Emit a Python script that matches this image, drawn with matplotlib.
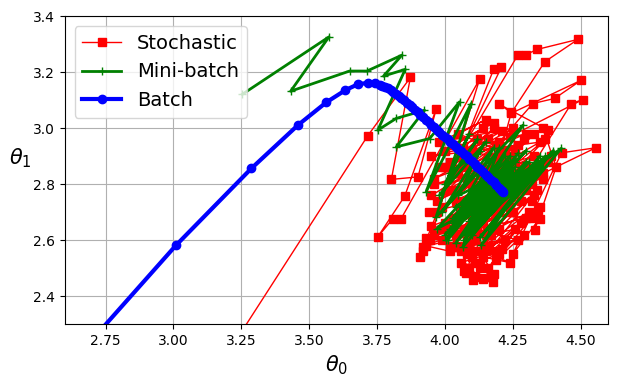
import matplotlib.pyplot as plt

# batch gradient descent path
batch_t0 = [2.55, 3.010, 3.287, 3.459, 3.563, 3.634, 3.680, 3.717, 3.741, 3.760,
            3.77, 3.78, 3.79, 3.80, 3.81, 3.82, 3.83, 3.84, 3.85, 3.86,
            3.87, 3.88, 3.89, 3.90, 3.91, 3.92, 3.93, 3.94, 3.95, 3.96,
            3.97, 3.98, 3.99, 4.00, 4.01, 4.02, 4.03, 4.04, 4.05, 4.06,
            4.07, 4.08, 4.09, 4.10, 4.11, 4.12, 4.13, 4.14, 4.15, 4.16,
            4.17, 4.18, 4.19, 4.20, 4.207, 4.211, 4.214]
batch_t1 = [2.08, 2.582, 2.856, 3.011, 3.092, 3.136, 3.157, 3.162, 3.162, 3.154,
            3.151, 3.147, 3.142, 3.136, 3.129, 3.122, 3.115, 3.107, 3.099, 3.091,
            3.083, 3.074, 3.066, 3.057, 3.048, 3.039, 3.030, 3.021, 3.012, 3.003,
            2.994, 2.985, 2.977, 2.968, 2.960, 2.951, 2.943, 2.934, 2.926, 2.917,
            2.908, 2.899, 2.890, 2.881, 2.872, 2.862, 2.853, 2.843, 2.834, 2.825,
            2.816, 2.806, 2.797, 2.787, 2.780, 2.776, 2.773]

# mini-batch path
mini_t0 = [3.254, 3.573, 3.432, 3.649, 3.713, 3.842, 3.774, 3.854, 3.753, 3.821,
           3.925, 3.821, 3.944, 4.054, 3.931, 4.097, 3.968, 4.288, 4.005, 4.20,
           4.066, 4.35, 4.134, 4.429, 4.02, 4.30, 4.05, 4.26, 4.00, 4.32,
           4.08, 4.24, 4.03, 4.349, 4.10, 4.22, 4.06, 4.397, 4.12, 4.28,
           4.04, 4.25, 4.09, 4.30, 4.14, 4.20, 4.07, 4.33, 4.11, 4.23,
           4.08, 4.27, 4.13, 4.21, 4.10, 4.29, 4.15, 4.19, 4.12, 4.24,
           3.97, 4.22, 4.01, 4.27, 4.04, 4.31, 4.07, 4.34, 4.10, 4.37,
           4.13, 4.40, 4.16, 4.36, 4.03, 4.18, 3.99, 4.15, 3.98, 4.12,
           4.00, 4.09, 4.02, 4.13, 4.05, 4.26, 4.08, 4.30, 4.11, 4.32,
           4.14, 4.28, 4.06, 4.24, 4.09, 4.22, 4.12, 4.25, 4.15, 4.19,
           4.11, 4.23, 4.14, 4.21, 4.16, 4.20, 4.17, 4.21, 4.18, 4.19]
mini_t1 = [3.121, 3.326, 3.132, 3.204, 3.204, 3.261, 3.186, 3.210, 2.993, 3.035,
           3.064, 2.933, 2.963, 3.094, 2.773, 3.088, 2.683, 3.011, 2.600, 2.93,
           2.576, 2.90, 2.582, 2.928, 2.64, 2.92, 2.66, 2.88, 2.62, 2.86,
           2.62, 2.90, 2.68, 2.862, 2.64, 2.86, 2.70, 2.911, 2.66, 2.84,
           2.72, 2.82, 2.67, 2.88, 2.70, 2.80, 2.73, 2.85, 2.69, 2.83,
           2.75, 2.80, 2.72, 2.85, 2.78, 2.83, 2.74, 2.79, 2.77, 2.78,
           2.64, 2.90, 2.60, 2.91, 2.59, 2.88, 2.60, 2.87, 2.62, 2.90,
           2.61, 2.92, 2.64, 2.86, 2.66, 2.93, 2.70, 2.95, 2.76, 2.96,
           2.80, 2.98, 2.84, 2.92, 2.76, 2.86, 2.70, 2.84, 2.67, 2.82,
           2.68, 2.80, 2.68, 2.88, 2.72, 2.82, 2.73, 2.84, 2.71, 2.81,
           2.75, 2.80, 2.77, 2.76, 2.76, 2.77, 2.75, 2.78, 2.77, 2.77]

# stochastic path
sgd_t0 = [3.05, 3.716, 3.873, 3.803, 3.901, 3.968, 3.852, 3.753, 3.809, 3.839,
          4.128, 3.944, 3.907, 4.180, 4.208, 4.065, 4.269, 4.300, 4.339, 4.490,
          4.368, 4.244, 4.502, 4.404, 4.324, 4.20, 4.508, 4.466, 4.28, 4.556,
          4.43, 4.25, 4.349, 4.343, 4.331, 4.410, 4.361, 4.380, 4.199, 4.245,
          4.079, 4.177, 4.103, 4.13, 4.06, 4.19, 4.08, 4.22, 4.05, 4.20,
          3.918, 4.25, 3.931, 4.15, 3.95, 4.30, 3.94, 4.28, 3.96, 4.33,
          3.97, 4.35, 3.95, 4.30, 4.00, 4.25, 3.98, 4.15, 4.05, 4.20,
          4.07, 4.38, 4.10, 4.36, 4.04, 4.32, 4.08, 4.30, 4.12, 4.27,
          4.09, 4.24, 4.14, 4.18, 4.11, 4.16, 4.03, 4.20, 4.01, 4.12,
          4.06, 4.18, 4.10, 4.22, 4.13, 4.26, 4.16, 4.24, 4.14, 4.22,
          3.96, 4.22, 3.99, 4.26, 4.02, 4.30, 4.06, 4.32, 4.10, 4.34,
          4.13, 4.28, 4.16, 4.31, 4.12, 4.36, 4.08, 4.39, 4.04, 4.37,
          4.00, 4.33, 3.97, 4.29, 3.95, 4.27, 3.96, 4.24, 3.98, 4.21,
          4.00, 4.18, 4.03, 4.14, 4.02, 4.16, 4.05, 4.19, 4.01, 4.23,
          3.99, 4.26, 4.03, 4.29, 4.07, 4.33, 4.11, 4.35, 4.15, 4.32,
          4.19, 4.29, 4.21, 4.26, 4.17, 4.24, 4.14, 4.28, 4.10, 4.25,
          4.06, 4.22, 4.04, 4.18, 4.08, 4.20, 4.12, 4.16, 4.15, 4.19,
          4.09, 4.14, 4.07, 4.17, 4.11, 4.20, 4.02, 3.93, 3.92, 3.99,
          4.18, 4.20]
sgd_t1 = [1.97, 2.973, 3.181, 2.817, 2.826, 3.068, 2.757, 2.612, 2.677, 2.677,
          3.175, 2.600, 2.540, 3.211, 3.217, 2.930, 3.261, 3.263, 3.281, 3.317,
          3.237, 3.053, 3.171, 3.106, 3.088, 2.95, 3.102, 3.088, 2.80, 2.930,
          2.912, 2.55, 2.677, 2.707, 2.636, 2.862, 2.999, 2.993, 3.086, 3.056,
          2.481, 2.451, 2.457, 2.50, 2.52, 2.56, 2.55, 2.60, 2.58, 2.64,
          2.576, 2.70, 2.606, 2.62, 2.65, 2.78, 2.70, 2.84, 2.80, 2.90,
          2.74, 2.95, 2.90, 2.98, 2.86, 3.00, 2.95, 3.03, 2.98, 2.92,
          2.86, 2.88, 2.80, 2.82, 2.74, 2.74, 2.70, 2.68, 2.64, 2.60,
          2.58, 2.52, 2.54, 2.48, 2.47, 2.58, 2.64, 2.70, 2.86, 2.96,
          2.90, 3.00, 2.92, 2.88, 2.84, 2.92, 2.80, 2.76, 2.70, 2.74,
          2.62, 2.92, 2.60, 2.88, 2.58, 2.86, 2.56, 2.80, 2.54, 2.78,
          2.52, 2.66, 2.50, 2.70, 2.56, 2.84, 2.60, 2.90, 2.62, 2.96,
          2.66, 2.98, 2.70, 2.96, 2.76, 2.94, 2.82, 2.97, 2.86, 2.99,
          2.92, 3.02, 2.94, 3.00, 2.88, 2.96, 2.84, 2.94, 2.78, 2.90,
          2.72, 2.84, 2.68, 2.80, 2.64, 2.76, 2.60, 2.72, 2.56, 2.68,
          2.53, 2.62, 2.57, 2.64, 2.62, 2.70, 2.66, 2.74, 2.68, 2.80,
          2.72, 2.84, 2.78, 2.88, 2.82, 2.82, 2.76, 2.74, 2.78, 2.76,
          2.50, 2.46, 2.49, 2.47, 2.52, 2.55, 2.56, 2.58, 2.56, 2.64,
          2.72, 2.77]

fig = plt.figure(figsize=(6.17, 3.85), dpi=100)
ax = fig.add_axes([0.105, 0.158, 0.880, 0.800])
ax.plot(sgd_t0, sgd_t1, "r-s", linewidth=1, label="Stochastic")
ax.plot(mini_t0, mini_t1, "g-+", linewidth=2, label="Mini-batch")
ax.plot(batch_t0, batch_t1, "b-o", linewidth=3, label="Batch")
ax.legend(loc="upper left", fontsize=14)
ax.set_xlabel(r"$\theta_0$", fontsize=15)
ax.set_ylabel(r"$\theta_1$", fontsize=15, rotation=0, labelpad=9)
ax.axis([2.6, 4.6, 2.3, 3.4])
ax.grid(True)
plt.savefig("out.png")
